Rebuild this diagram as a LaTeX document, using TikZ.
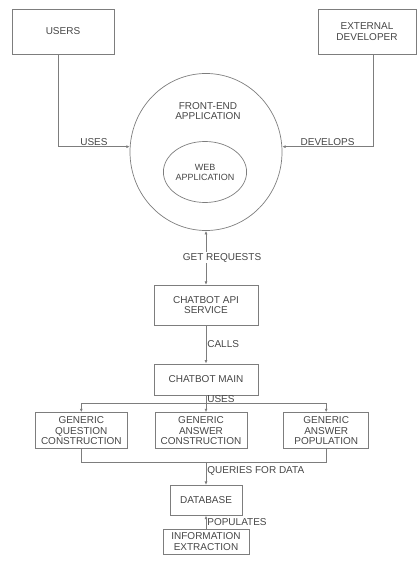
\documentclass[tikz,border=0pt]{standalone}
\usepackage{fontspec}
\setmainfont{Liberation Sans}
\usetikzlibrary{arrows.meta,positioning,shapes.geometric}
\definecolor{DFDline}{RGB}{125,125,125}
\definecolor{DFDtext}{RGB}{70,70,70}

\begin{document}
\begin{tikzpicture}[x=1pt,y=-1pt,node distance=18pt, every node/.style={font=\fontsize{10}{10.5}\selectfont,text=DFDtext}, box/.style={draw=DFDline,line width=0.7pt,align=center,inner sep=2pt}, proc/.style={ellipse,draw=DFDline,line width=0.7pt,inner sep=0pt,align=center}, arr/.style={-{Latex[length=3.5pt,width=3pt]},line width=0.7pt,DFDline}, arrboth/.style={{Latex[length=3.5pt,width=3pt]}-{Latex[length=3.5pt,width=3pt]},line width=0.7pt,DFDline}, lbl/.style={inner sep=1pt}]
\useasboundingbox (0,0) rectangle (417,561);
% external entities
\node[box,minimum width=102pt,minimum height=45pt] (users) at (63,31.5) {USERS};
\node[box,minimum width=98pt,minimum height=45pt] (dev) at (367,31.5) {EXTERNAL\\DEVELOPER};
% front-end process
\node[proc,minimum width=152pt,minimum height=157pt] (fe) at (206,152) {};
\node[align=center] (fetext) at (208,111) {FRONT-END\\APPLICATION};
\node[proc,minimum width=69pt,minimum height=61pt,font=\fontsize{9}{10}\selectfont] (web) at (205,172) {WEB\\APPLICATION};
% chatbot chain
\node[box,minimum width=104pt,minimum height=40pt,below=54pt of fe] (api) {CHATBOT API\\SERVICE};
\node[box,minimum width=104pt,minimum height=31pt,below=38pt of api] (main) {CHATBOT MAIN};
\coordinate[below=8.5pt of main] (bus1);
\node[box,minimum width=92pt,minimum height=36pt,below=17pt of main,xshift=-5pt] (ga) {GENERIC\\ANSWER\\CONSTRUCTION};
\node[box,minimum width=92pt,minimum height=36pt,left=27pt of ga] (gq) {GENERIC\\QUESTION\\CONSTRUCTION};
\node[box,minimum width=85pt,minimum height=36pt,right=36pt of ga] (gp) {GENERIC\\ANSWER\\POPULATION};
\path (gq.south) ++(0,13) coordinate (q1);
\coordinate (bus2) at (main |- q1);
\node[box,minimum width=72pt,minimum height=30pt,below=23pt of bus2] (db) {DATABASE};
\node[box,minimum width=86pt,minimum height=25pt,below=13pt of db] (info) {INFORMATION\\EXTRACTION};
% connectors
\draw[arr] ([xshift=-5pt]users.south) |- (fe.176) node[lbl,above,pos=0.75] {USES};
\draw[arr] ([xshift=6pt]dev.south) |- (fe.4) node[lbl,above,pos=0.75] {DEVELOPS};
\draw[arrboth] (fe.south) -- (api.north) node[lbl,fill=white,midway,xshift=16pt] {GET REQUESTS};
\draw[arr] (api) -- (main) node[lbl,right,midway] {CALLS};
\draw[line width=0.7pt,DFDline] (main) -- (bus1) node[lbl,right,midway] {USES};
\draw[arr] (bus1) -| (gq.north);
\draw[arr] (bus1) -- (bus1 |- ga.north);
\draw[arr] (bus1) -| (gp.north);
\draw[line width=0.7pt,DFDline] (gq.south) |- (bus2) -| (gp.south);
\draw[arr] (bus2) -- (db.north) node[lbl,right,pos=0.4] {QUERIES FOR DATA};
\draw[arr] (info) -- (db) node[lbl,right,midway] {POPULATES};
\end{tikzpicture}
\end{document}
